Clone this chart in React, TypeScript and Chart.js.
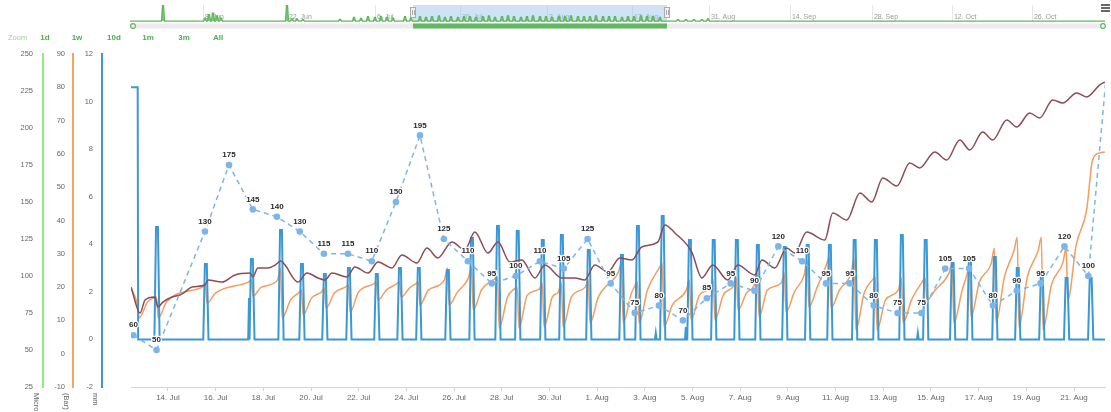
import React, { useEffect, useRef } from 'react';
import { Chart, registerables } from 'chart.js';

Chart.register(...registerables);

const FONT = '"Liberation Sans", Arial, sans-serif';

// x values are days counted from 1 Jul 00:00 (day 13 = 14. Jul, day 31 = 1. Aug)
const X_MIN = 11.45;
const X_MAX = 52.3;
const xTickDays = [13, 15, 17, 19, 21, 23, 25, 27, 29, 31, 33, 35, 37, 39, 41, 43, 45, 47, 49, 51];

// blue series (mm)
const blueStartValue = 10.6;
const blueStartEnd = 11.74;
const spikeDays = [12.54, 14.59, 16.52, 17.74, 18.62, 19.58, 20.59, 21.76, 22.73, 23.52, 24.74, 25.75, 26.84, 27.67, 28.72, 29.52, 30.65, 32.04, 32.71, 33.75, 34.89, 35.89, 36.86, 37.74, 38.87, 39.83, 40.76, 41.8, 42.69, 43.78, 44.78, 45.91, 46.63, 47.68, 48.64, 49.65, 50.69, 51.7];
const spikeMM = [4.73, 3.17, 3.38, 4.6, 3.17, 2.75, 3.0, 2.75, 3.0, 3.0, 2.92, 4.26, 4.77, 4.56, 4.18, 4.39, 3.76, 3.55, 4.77, 5.19, 4.18, 4.18, 4.18, 3.97, 3.89, 3.97, 3.97, 4.18, 4.18, 4.39, 4.18, 3.21, 3.47, 3.47, 3.0, 2.79, 2.58, 2.58];
const blipDays = [16.4, 33.46, 34.72, 44.45];
const blipMM = [1.74, 0.27, 0.52, 0.27];

// orange series (Bar): one cycle per drop
const orangeStart = 19.7;
const orangeDropDays = [11.74, 12.54, 14.59, 16.52, 17.74, 18.62, 19.58, 20.59, 21.76, 22.73, 23.52, 24.74, 25.75, 26.84, 27.67, 28.72, 29.52, 30.65, 32.04, 32.71, 33.75, 34.89, 35.89, 36.86, 37.74, 38.87, 39.83, 40.76, 41.8, 42.69, 43.78, 44.78, 45.91, 46.63, 47.68, 48.64, 49.65, 50.69];
const orangePre = [null, 16.7, 20.0, 21.5, 22.1, 18.2, 18.5, 20.0, 20.9, 20.9, 20.9, 22.1, 22.7, 22.4, 19.4, 19.4, 18.5, 20.0, 24.5, 20.0, 25.7, 19.1, 19.7, 20.3, 20.6, 21.2, 23.6, 26.6, 24.2, 22.1, 19.1, 21.5, 24.2, 23.0, 27.2, 31.1, 31.1, 27.5];
const orangePeak = [14.6, 17.0, 20.6, 22.1, 25.7, 19.1, 19.7, 20.6, 21.5, 21.5, 21.5, 25.7, 26.0, 23.0, 19.7, 21.2, 21.2, 22.1, 27.2, 21.5, 27.2, 22.1, 22.1, 22.7, 24.2, 24.2, 28.1, 29.0, 28.7, 23.0, 22.7, 22.7, 27.2, 26.0, 31.7, 35.0, 35.0, 32.0];
const orangeLow = [10.7, 10.7, 15.2, 17.3, 10.7, 11.6, 13.7, 12.5, 16.1, 17.0, 14.6, 14.6, 13.1, 7.7, 7.7, 8.0, 8.0, 9.2, 9.2, 9.2, 8.0, 10.1, 10.1, 13.1, 11.0, 12.5, 14.0, 13.7, 7.1, 7.1, 9.2, 16.1, 9.2, 11.0, 9.2, 8.0, 7.1, 16.1];
const orangeMid = [15.5, 15.5, 18.2, 20.0, 16.1, 16.7, 18.2, 18.5, 19.1, 19.7, 19.1, 18.5, 19.1, 17.0, 17.6, 17.0, 17.0, 17.0, 18.2, 19.1, 14.6, 17.6, 17.6, 18.2, 19.1, 18.5, 20.0, 19.1, 18.2, 16.1, 16.1, 19.1, 19.1, 21.5, 23.0, 23.0, 20.6, 32.6];
const orangeTailDays = [51.53, 51.78, 52.08, 52.29];
const orangeTailVals = [43.2, 58.2, 60.3, 60.6];

// brown series (left green axis)
const brownDays = [11.45, 11.83, 12.04, 12.45, 12.58, 12.79, 13.17, 13.5, 13.71, 14.01, 14.55, 14.68, 15.26, 15.81, 16.44, 16.56, 16.77, 17.19, 17.49, 17.74, 17.91, 18.45, 18.83, 19.29, 19.58, 19.88, 20.51, 20.84, 21.39, 21.81, 22.39, 22.81, 23.44, 23.86, 24.32, 24.91, 25.45, 25.87, 26.42, 26.84, 27.34, 27.84, 28.39, 28.81, 29.52, 30.07, 30.48, 30.9, 31.45, 31.95, 32.46, 32.87, 33.55, 33.84, 34.26, 34.97, 35.39, 35.85, 36.48, 36.9, 37.61, 37.91, 38.45, 38.95, 39.29, 39.79, 40.55, 40.88, 41.47, 42.02, 42.52, 42.98, 43.57, 44.11, 44.53, 45.16, 45.66, 46.21, 46.63, 47.17, 47.59, 48.18, 48.6, 49.14, 49.56, 50.11, 50.53, 51.11, 51.53, 52.08, 52.29];
const brownVals = [92.6, 75.0, 83.8, 85.8, 79.1, 82.4, 85.8, 87.2, 89.2, 92.6, 93.9, 97.3, 95.9, 100.7, 102.0, 99.3, 105.4, 105.4, 107.4, 110.1, 107.4, 95.9, 102.0, 98.7, 97.3, 102.0, 99.3, 106.1, 102.0, 109.5, 105.4, 114.2, 108.8, 118.9, 112.2, 123.0, 117.6, 129.7, 115.5, 123.0, 109.5, 110.8, 98.7, 107.4, 98.7, 98.7, 97.3, 107.4, 102.7, 112.2, 110.8, 119.6, 123.0, 134.5, 129.1, 116.2, 98.7, 107.4, 97.3, 107.4, 100.7, 110.8, 105.4, 118.9, 115.5, 129.7, 124.3, 142.6, 137.8, 156.1, 150.0, 166.2, 160.8, 176.4, 173.0, 183.8, 178.4, 191.9, 185.1, 197.3, 191.9, 205.4, 200.7, 210.1, 206.8, 218.9, 216.9, 223.7, 221.0, 229.1, 231.1];

// dashed daily series with labels (left green axis)
const dashDays = [11.55, 12.52, 14.55, 15.56, 16.56, 17.57, 18.53, 19.54, 20.55, 21.55, 22.56, 23.57, 24.57, 25.58, 26.58, 27.59, 28.6, 29.6, 30.6, 31.57, 32.58, 33.59, 34.6, 35.6, 36.6, 37.6, 38.6, 39.6, 40.6, 41.6, 42.6, 43.6, 44.6, 45.6, 46.6, 47.6, 48.6, 49.6, 50.6, 51.6, 52.6];
const dashVals = [60, 50, 130, 175, 145, 140, 130, 115, 115, 110, 150, 195, 125, 110, 95, 100, 110, 105, 125, 95, 75, 80, 70, 85, 95, 90, 120, 110, 95, 95, 80, 75, 75, 105, 105, 80, 90, 95, 120, 100, 280];

// navigator (ordinal units, 0..975)
const navTickU = [73, 157, 245, 330, 417, 502, 579, 660, 742, 822, 902];
const navTickLabels = ['8. Jun', '22. Jun', '6. Jul', '20. Jul', '3. Aug', '17. Aug', '31. Aug', '14. Sep', '28. Sep', '12. Oct', '26. Oct'];
const navSpikeU = [33, 75, 79, 83, 87, 91, 157, 162, 167, 173, 210, 224, 231, 238, 245, 251, 257, 263, 275, 281, 290, 296, 302, 309, 315, 321, 328, 334, 340, 346, 353, 359, 365, 372, 378, 384, 391, 397, 403, 410, 416, 422, 429, 435, 441, 448, 454, 460, 466, 473, 479, 485, 492, 498, 504, 511, 517, 523, 530, 548, 556, 564, 572, 578];
const navSpikeH = [10.5, 2, 4.5, 5.5, 3.5, 2, 11, 1.5, 1.5, 1, 1.2, 2.5, 1.8, 3, 2.5, 3.2, 2.5, 2, 3, 2, 3, 2.5, 3, 3.5, 2.5, 3, 2.5, 3, 3, 2.5, 3, 3.5, 2.5, 3, 3.5, 3, 2.5, 3, 3.5, 3, 3, 2.5, 3, 3, 3.5, 3, 3, 3, 3.5, 3, 3, 3, 2.5, 3, 3, 3.5, 3, 3, 2.5, 1, 1, 1, 1, 1.5];
const navSelection = [283, 537];

const zoomButtons = ['1d', '1w', '10d', '1m', '3m', 'All'];
const zoomButtonX = [45, 77, 114, 148, 184, 218];
const axisTitles = ['Micro S/cm', '(Bar)', 'mm'];
const axisTitleX = [37, 67, 96];

function dayLabel(d: number): string {
  return d < 31 ? `${d + 1}. Jul` : `${d - 30}. Aug`;
}

function bluePoints() {
  const pts: { x: number; y: number }[] = [
    { x: X_MIN, y: blueStartValue },
    { x: blueStartEnd - 0.01, y: blueStartValue },
    { x: blueStartEnd + 0.01, y: 0 },
  ];
  const all = spikeDays
    .map((d, i) => ({ d, v: spikeMM[i], big: true }))
    .concat(blipDays.map((d, i) => ({ d, v: blipMM[i], big: false })))
    .sort((a, b) => a.d - b.d);
  for (const s of all) {
    if (s.big) {
      pts.push({ x: s.d - 0.11, y: 0 }, { x: s.d - 0.04, y: s.v }, { x: s.d + 0.04, y: s.v }, { x: s.d + 0.11, y: 0 });
    } else {
      pts.push({ x: s.d - 0.035, y: 0 }, { x: s.d, y: s.v }, { x: s.d + 0.035, y: 0 });
    }
  }
  pts.push({ x: X_MAX, y: 0 });
  return pts;
}

function orangePoints() {
  const pts: { x: number; y: number }[] = [{ x: X_MIN, y: orangeStart }];
  orangeDropDays.forEach((d, i) => {
    const pre = orangePre[i];
    if (pre !== null) pts.push({ x: d - 0.15, y: pre });
    pts.push({ x: d - 0.02, y: orangePeak[i] });
    pts.push({ x: d + 0.05, y: orangeLow[i] });
    pts.push({ x: d + 0.4, y: orangeMid[i] });
  });
  orangeTailDays.forEach((d, i) => pts.push({ x: d, y: orangeTailVals[i] }));
  return pts;
}

function navPoints() {
  const pts: { x: number; y: number }[] = [{ x: 0, y: 0 }];
  navSpikeU.forEach((u, i) => {
    const h = navSpikeH[i];
    pts.push({ x: u - 1.5, y: 0 }, { x: u - 0.5, y: h }, { x: u + 0.5, y: h }, { x: u + 1.5, y: 0 });
  });
  pts.push({ x: 975, y: 0 });
  return pts;
}

const dashLabelPlugin = {
  id: 'dashLabels',
  afterDatasetsDraw(chart: any) {
    const meta = chart.getDatasetMeta(0);
    const area = chart.chartArea;
    const ctx = chart.ctx;
    ctx.save();
    ctx.font = `bold 8px ${FONT}`;
    ctx.textAlign = 'center';
    ctx.textBaseline = 'bottom';
    ctx.lineJoin = 'round';
    meta.data.forEach((pt: any, i: number) => {
      if (pt.y < area.top || pt.x > area.right) return;
      const t = String(dashVals[i]);
      ctx.lineWidth = 2.5;
      ctx.strokeStyle = '#ffffff';
      ctx.strokeText(t, pt.x, pt.y - 6);
      ctx.fillStyle = '#2a2a2a';
      ctx.fillText(t, pt.x, pt.y - 6);
    });
    ctx.restore();
  },
};

const navPlugin = {
  id: 'navDecor',
  beforeDatasetsDraw(chart: any) {
    const { ctx, chartArea } = chart;
    const sx = chart.scales.x;
    const x0 = sx.getPixelForValue(navSelection[0]);
    const x1 = sx.getPixelForValue(navSelection[1]);
    ctx.save();
    ctx.fillStyle = 'rgba(160,198,238,0.5)';
    ctx.fillRect(x0, chartArea.top, x1 - x0, chartArea.bottom - chartArea.top);
    ctx.restore();
  },
  afterDraw(chart: any) {
    const { ctx, chartArea } = chart;
    const sx = chart.scales.x;
    const x0 = sx.getPixelForValue(navSelection[0]);
    const x1 = sx.getPixelForValue(navSelection[1]);
    ctx.save();
    ctx.fillStyle = '#eeeaee';
    ctx.fillRect(chartArea.left, 23.5, chartArea.right - chartArea.left, 5);
    ctx.fillStyle = '#62b862';
    ctx.fillRect(x0, 23.5, x1 - x0, 5);
    ctx.strokeStyle = '#5cb85c';
    ctx.lineWidth = 1.2;
    [chartArea.left + 3, chartArea.right - 2].forEach((bx) => {
      ctx.beginPath();
      ctx.arc(bx, 26, 2.3, 0, Math.PI * 2);
      ctx.fillStyle = '#ffffff';
      ctx.fill();
      ctx.stroke();
    });
    [x0, x1].forEach((hx) => {
      ctx.fillStyle = '#f2f2f2';
      ctx.strokeStyle = '#aaaaaa';
      ctx.lineWidth = 1;
      ctx.fillRect(hx - 3, 7, 6, 11);
      ctx.strokeRect(hx - 3 + 0.5, 7.5, 5, 10);
      ctx.beginPath();
      ctx.moveTo(hx - 0.5, 10);
      ctx.lineTo(hx - 0.5, 15);
      ctx.moveTo(hx + 1.5, 10);
      ctx.lineTo(hx + 1.5, 15);
      ctx.stroke();
    });
    ctx.restore();
  },
};

export default function App() {
  const mainRef = useRef<HTMLCanvasElement | null>(null);
  const navRef = useRef<HTMLCanvasElement | null>(null);

  useEffect(() => {
    document.body.style.margin = '0';
    const yFont = { size: 7.5, family: FONT };
    const xFont = { size: 8, family: FONT };
    const main = new Chart(mainRef.current as HTMLCanvasElement, {
      type: 'line',
      data: {
        datasets: [
          {
            label: 'daily',
            data: dashDays.map((d, i) => ({ x: d, y: dashVals[i] })),
            yAxisID: 'yG',
            borderColor: '#7cb5ec',
            borderWidth: 1.5,
            borderDash: [5, 4],
            pointRadius: 3.3,
            pointBackgroundColor: '#7cb5ec',
            pointBorderWidth: 0,
            tension: 0,
          },
          {
            label: 'brown',
            data: brownDays.map((d, i) => ({ x: d, y: brownVals[i] })),
            yAxisID: 'yG',
            borderColor: '#8c4c54',
            borderWidth: 1.5,
            pointRadius: 0,
            cubicInterpolationMode: 'monotone',
          },
          {
            label: 'mm',
            data: bluePoints(),
            yAxisID: 'yB',
            borderColor: '#3a98d6',
            borderWidth: 2,
            pointRadius: 0,
            tension: 0,
          },
          {
            label: 'bar',
            data: orangePoints(),
            yAxisID: 'yO',
            borderColor: '#f59c5e',
            borderWidth: 1.5,
            pointRadius: 0,
            cubicInterpolationMode: 'monotone',
          },
        ],
      },
      options: {
        responsive: false,
        animation: false,
        events: [],
        layout: { padding: { top: 54, right: 6, left: 0, bottom: 0 } },
        plugins: { legend: { display: false }, tooltip: { enabled: false } },
        scales: {
          x: {
            type: 'linear',
            min: X_MIN,
            max: X_MAX,
            afterBuildTicks: (s: any) => {
              s.ticks = xTickDays.map((v) => ({ value: v }));
            },
            ticks: {
              autoSkip: false,
              maxRotation: 0,
              callback: (v: any) => dayLabel(Number(v)),
              color: '#666666',
              font: xFont,
              padding: 2,
            },
            grid: { display: true, drawOnChartArea: false, drawTicks: true, tickLength: 4, color: '#ccd6eb' },
            border: { display: true, color: '#ccd6eb', width: 1 },
            afterFit: (s: any) => {
              s.height = 25;
            },
          },
          yG: {
            type: 'linear',
            position: 'left',
            weight: 3,
            min: 25,
            max: 250,
            ticks: { stepSize: 25, color: '#666666', font: yFont, padding: 10 },
            grid: { display: false, drawTicks: false },
            border: { display: true, color: '#90ed7d', width: 2 },
            afterFit: (s: any) => {
              s.width = 43;
            },
          },
          yO: {
            type: 'linear',
            position: 'left',
            weight: 2,
            min: -10,
            max: 90,
            ticks: { stepSize: 10, color: '#666666', font: yFont, padding: 8 },
            grid: { display: false, drawTicks: false },
            border: { display: true, color: '#f7a35c', width: 2 },
            afterFit: (s: any) => {
              s.width = 30;
            },
          },
          yB: {
            type: 'linear',
            position: 'left',
            weight: 1,
            min: -2,
            max: 12,
            ticks: { stepSize: 2, color: '#666666', font: yFont, padding: 9 },
            grid: { display: false, drawTicks: false },
            border: { display: true, color: '#3a98d6', width: 2 },
            afterFit: (s: any) => {
              s.width = 29;
            },
          },
          gap: {
            type: 'linear',
            position: 'left',
            display: true,
            weight: 0,
            min: 0,
            max: 1,
            ticks: { display: false },
            grid: { display: false, drawTicks: false },
            border: { display: false },
            afterFit: (s: any) => {
              s.width = 29;
            },
          },
        },
      } as any,
      plugins: [dashLabelPlugin],
    });

    const nav = new Chart(navRef.current as HTMLCanvasElement, {
      type: 'line',
      data: {
        datasets: [
          {
            data: navPoints(),
            borderColor: '#5cb85c',
            borderWidth: 1.3,
            backgroundColor: 'rgba(92,184,92,0.75)',
            fill: 'origin',
            pointRadius: 0,
            tension: 0,
          },
        ],
      },
      options: {
        responsive: false,
        animation: false,
        events: [],
        layout: { padding: { top: 5, right: 6, left: 130, bottom: 0 } },
        plugins: { legend: { display: false }, tooltip: { enabled: false } },
        scales: {
          x: {
            type: 'linear',
            min: 0,
            max: 975,
            afterBuildTicks: (s: any) => {
              s.ticks = navTickU.map((v) => ({ value: v }));
            },
            ticks: {
              autoSkip: false,
              maxRotation: 0,
              align: 'start',
              mirror: true,
              padding: 1,
              color: '#999999',
              font: { size: 7, family: FONT },
              callback: (v: any) => {
                const k = navTickU.indexOf(Number(v));
                return k >= 0 ? ' ' + navTickLabels[k] : '';
              },
            },
            grid: { display: true, drawOnChartArea: true, drawTicks: false, color: '#e6e6e6' },
            border: { display: false },
            afterFit: (s: any) => {
              s.height = 10;
            },
          },
          y: { display: false, min: -0.6, max: 11 },
        },
      } as any,
      plugins: [navPlugin],
    });

    return () => {
      main.destroy();
      nav.destroy();
    };
  }, []);

  return (
    <div style={{ position: 'absolute', left: 0, top: 0, width: 1111, height: 412, background: '#ffffff', overflow: 'hidden', fontFamily: FONT }}>
      <canvas ref={mainRef} width={1111} height={412} style={{ position: 'absolute', left: 0, top: 0 }} />
      <canvas ref={navRef} width={1111} height={32} style={{ position: 'absolute', left: 0, top: 0 }} />
      <span style={{ position: 'absolute', left: 8, top: 33, fontSize: 7.5, color: '#9bcf9b' }}>Zoom</span>
      {zoomButtons.map((b, i) => (
        <span
          key={b}
          style={{ position: 'absolute', left: zoomButtonX[i], top: 33, transform: 'translateX(-50%)', fontSize: 8, fontWeight: 'bold', color: '#4cae4c' }}
        >
          {b}
        </span>
      ))}
      {axisTitles.map((t, i) => (
        <span
          key={t}
          style={{ position: 'absolute', left: axisTitleX[i] - 4, top: 393, transformOrigin: '0 0', transform: 'translateX(8px) rotate(90deg)', fontSize: 7.5, color: '#666666', whiteSpace: 'nowrap' }}
        >
          {t}
        </span>
      ))}
      <div style={{ position: 'absolute', left: 1101, top: 4, width: 9, height: 8 }}>
        {[0, 3, 6].map((y) => (
          <div key={y} style={{ position: 'absolute', left: 0, top: y, width: 9, height: 1.5, background: '#666666' }} />
        ))}
      </div>
    </div>
  );
}
